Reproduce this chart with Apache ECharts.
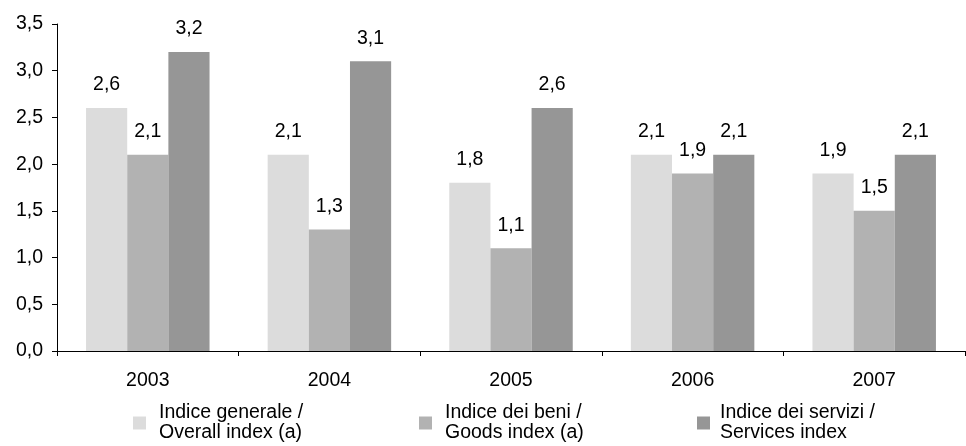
<!DOCTYPE html>
<html>
<head>
<meta charset="utf-8">
<script src="https://cdn.jsdelivr.net/npm/echarts@6/dist/echarts.min.js"></script>
<style>
  html, body { margin: 0; padding: 0; background: #fff; }
  #chart { width: 966px; height: 446px; }
</style>
</head>
<body>
<div id="chart"></div>
<script>
// Inflation by year: overall, goods and services indices (%)
const years = ['2003', '2004', '2005', '2006', '2007'];
const overallIndex = [2.6, 2.1, 1.8, 2.1, 1.9];
const goodsIndex = [2.1, 1.3, 1.1, 1.9, 1.5];
const servicesIndex = [3.2, 3.1, 2.6, 2.1, 2.1];
const seriesNames = [
  'Indice generale /\nOverall index (a)',
  'Indice dei beni /\nGoods index (a)',
  'Indice dei servizi /\nServices index'
];
const seriesColors = ['#dcdcdc', '#b2b2b2', '#969696'];
const seriesData = [overallIndex, goodsIndex, servicesIndex];

const FONT = 'Liberation Sans, Arial, sans-serif';
const FS = 19.5;
const fmt = v => v.toFixed(1).replace('.', ',');

const chart = echarts.init(document.getElementById('chart'), null, { renderer: 'canvas' });

const legendLefts = [133, 419, 697];
const legendGaps = [13, 13, 10];

chart.setOption({
  animation: false,
  backgroundColor: '#ffffff',
  textStyle: { fontFamily: FONT },
  grid: { left: 57, right: 1, top: 24, bottom: 95, containLabel: false },
  legend: seriesNames.map((name, i) => ({
    data: [name],
    left: legendLefts[i],
    top: 403,
    padding: 0,
    orient: 'horizontal',
    itemWidth: 13,
    itemHeight: 13,
    itemGap: 0,
    icon: 'rect',
    selectedMode: false,
    textStyle: {
      fontFamily: FONT,
      fontSize: FS,
      lineHeight: 20,
      color: '#000',
      padding: [0, 0, 0, legendGaps[i] - 5]
    }
  })),
  xAxis: {
    type: 'category',
    data: years,
    axisLine: { lineStyle: { color: '#000', width: 1 } },
    axisTick: { show: true, length: 5, inside: false, lineStyle: { color: '#000' } },
    axisLabel: { color: '#000', fontSize: FS, margin: 20, fontFamily: FONT },
    splitLine: { show: false }
  },
  yAxis: {
    type: 'value',
    min: 0,
    max: 3.5,
    interval: 0.5,
    axisLine: { show: true, lineStyle: { color: '#000', width: 1 } },
    axisTick: { show: true, length: 5, lineStyle: { color: '#000' } },
    axisLabel: { color: '#000', fontSize: FS, margin: 14, fontFamily: FONT, formatter: fmt },
    splitLine: { show: false }
  },
  series: seriesNames.map((name, i) => ({
    name: name,
    type: 'bar',
    data: seriesData[i],
    barGap: '0%',
    barCategoryGap: '32%',
    itemStyle: { color: seriesColors[i] },
    label: {
      show: true,
      position: 'top',
      distance: 13,
      color: '#000',
      fontSize: FS,
      fontFamily: FONT,
      formatter: p => fmt(p.value)
    }
  }))
});
</script>
</body>
</html>
